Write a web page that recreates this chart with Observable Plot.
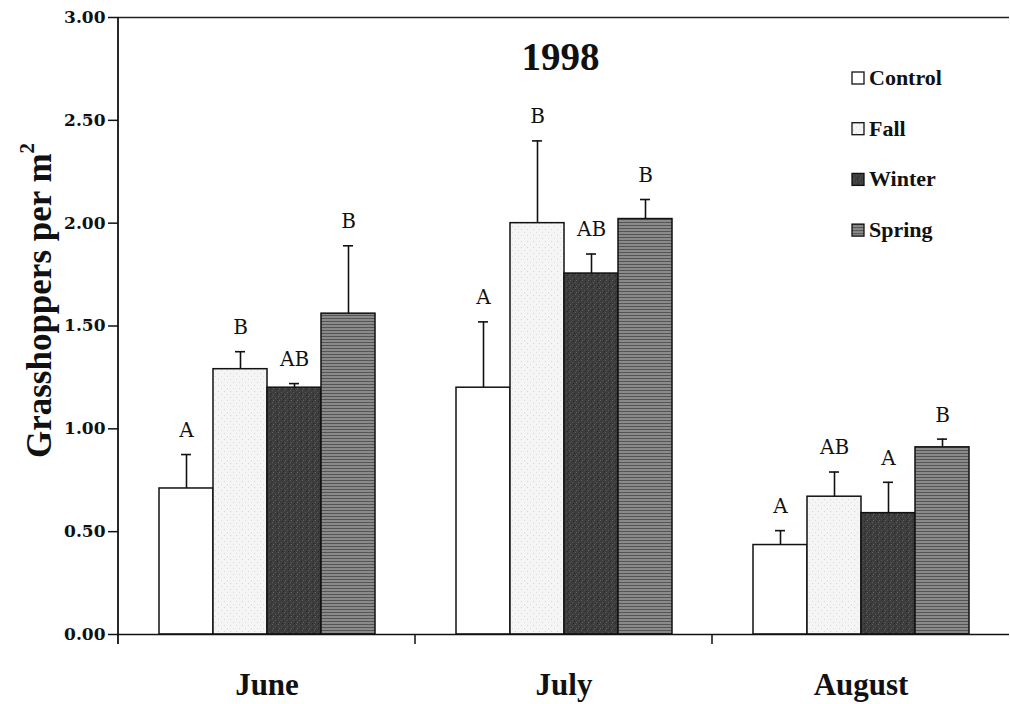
<!DOCTYPE html>
<html>
<head>
<meta charset="utf-8">
<script src="https://cdn.jsdelivr.net/npm/d3@7"></script>
<script src="https://cdn.jsdelivr.net/npm/@observablehq/plot@0.6"></script>
<style>
  html, body { margin: 0; padding: 0; background: #ffffff; }
  #chart { position: relative; width: 1010px; height: 704px; }
</style>
</head>
<body>
<svg width="0" height="0" style="position:absolute">
  <defs>
    <pattern id="pat-control" width="4" height="4" patternUnits="userSpaceOnUse">
      <rect width="4" height="4" fill="#ffffff"/>
    </pattern>
    <pattern id="pat-fall" width="6" height="6" patternUnits="userSpaceOnUse">
      <rect width="6" height="6" fill="#f5f5f5"/>
      <rect x="1" y="1" width="1" height="1" fill="#d6d6d6"/>
      <rect x="4" y="4" width="1" height="1" fill="#dddddd"/>
    </pattern>
    <pattern id="pat-winter" width="6" height="6" patternUnits="userSpaceOnUse">
      <rect width="6" height="6" fill="#3d3d3d"/>
      <rect x="1" y="0" width="1" height="1" fill="#5e5e5e"/>
      <rect x="4" y="2" width="1" height="1" fill="#575757"/>
      <rect x="2" y="4" width="1" height="1" fill="#626262"/>
      <rect x="5" y="5" width="1" height="1" fill="#2a2a2a"/>
      <rect x="0" y="3" width="1" height="1" fill="#2c2c2c"/>
    </pattern>
    <pattern id="pat-spring" width="4" height="3" patternUnits="userSpaceOnUse">
      <rect width="4" height="3" fill="#8a8a8a"/>
      <rect x="0" y="0" width="4" height="1" fill="#555555"/>
    </pattern>
  </defs>
</svg>
<div id="chart"></div>
<script>
// ---- data ----
const months = ["June", "July", "August"];
const treatments = ["Control", "Fall", "Winter", "Spring"];
const juneMeans   = [0.71, 1.29, 1.20, 1.56];
const julyMeans   = [1.20, 2.00, 1.755, 2.02];
const augustMeans = [0.435, 0.67, 0.59, 0.91];
const juneSE   = [0.165, 0.085, 0.02, 0.33];
const julySE   = [0.32, 0.40, 0.095, 0.095];
const augustSE = [0.07, 0.12, 0.15, 0.04];
const juneLetters   = ["A", "B", "AB", "B"];
const julyLetters   = ["A", "B", "AB", "B"];
const augustLetters = ["A", "AB", "A", "B"];
const yTicks = [0, 0.5, 1, 1.5, 2, 2.5, 3];
const titleText = "1998";
const yLabel = "Grasshoppers per m";
const fills = ["url(#pat-control)", "url(#pat-fall)", "url(#pat-winter)", "url(#pat-spring)"];

const meansByMonth = [juneMeans, julyMeans, augustMeans];
const seByMonth = [juneSE, julySE, augustSE];
const lettersByMonth = [juneLetters, julyLetters, augustLetters];
const data = [];
months.forEach((m, i) => treatments.forEach((t, j) => data.push({
  month: m, treatment: t, mean: meansByMonth[i][j], se: seByMonth[i][j],
  top: meansByMonth[i][j] + seByMonth[i][j], letter: lettersByMonth[i][j]
})));

const serif = "'Liberation Serif', 'Times New Roman', serif";
const wideSerif = "'DejaVu Serif', serif";

const chart = Plot.plot({
  width: 1010,
  height: 704,
  marginLeft: 117,
  marginRight: 0,
  marginTop: 17,
  marginBottom: 70,
  style: { fontFamily: serif, background: "#ffffff", color: "#111" },
  fx: { domain: months, padding: 0, label: null },
  x: { domain: treatments, paddingInner: 0, paddingOuter: 0.73, axis: null },
  y: { domain: [0, 3] },
  color: { domain: treatments, range: fills },
  marks: [
    Plot.barY(data, { fx: "month", x: "treatment", y: "mean", fill: "treatment", stroke: "#111", strokeWidth: 1.5 }),
    Plot.ruleX(data, { fx: "month", x: "treatment", y1: "mean", y2: "top", stroke: "#111", strokeWidth: 1.6 }),
    Plot.tickY(data, { fx: "month", x: "treatment", y: "top", insetLeft: 22, insetRight: 22, stroke: "#111", strokeWidth: 1.6 }),
    Plot.text(data, { fx: "month", x: "treatment", y: "top", text: "letter", dy: -24, fontFamily: wideSerif, fontSize: 20, fill: "#111" }),
    Plot.ruleY([0], { stroke: "#111", strokeWidth: 1.6 }),
    Plot.ruleY([3], { stroke: "#222", strokeWidth: 1.6 }),
    Plot.axisY({ ticks: yTicks, tickFormat: d => d.toFixed(2), tickSize: 10, tickPadding: 3, fontFamily: wideSerif, fontWeight: "bold", fontSize: 17, label: null, strokeWidth: 1.5 }),
    Plot.axisFx({ anchor: "bottom", tickSize: 0, tickPadding: 38, label: null, fontFamily: serif, fontWeight: "bold", fontSize: 31 })
  ]
});

document.getElementById("chart").appendChild(chart);

// ---- extras drawn with the plot's scales ----
const svg = d3.select(chart);
const fx = chart.scale("fx");
const ys = chart.scale("y");
const x0 = fx.apply(months[0]);
const y0 = ys.apply(0);
const y3 = ys.apply(3);

// y axis line (extends slightly below zero)
svg.append("line").attr("x1", x0).attr("x2", x0).attr("y1", y3).attr("y2", y0 + 10)
  .attr("stroke", "#111").attr("stroke-width", 1.8);
// month boundary ticks
months.slice(1).forEach(m => {
  const xm = fx.apply(m);
  svg.append("line").attr("x1", xm).attr("x2", xm).attr("y1", y0).attr("y2", y0 + 10)
    .attr("stroke", "#111").attr("stroke-width", 1.5);
});

// title
const [r0, r1] = fx.range;
svg.append("text").attr("x", (r0 + r1) / 2 - 3).attr("y", 70)
  .attr("text-anchor", "middle").attr("font-family", serif).attr("font-weight", "bold")
  .attr("font-size", 39).attr("fill", "#111").text(titleText);

// y label
const yl = svg.append("text").attr("transform", `translate(51,${(y3 + y0) / 2 - 25}) rotate(-90)`)
  .attr("text-anchor", "middle").attr("font-family", serif).attr("font-weight", "bold")
  .attr("font-size", 35).attr("fill", "#111");
yl.append("tspan").text(yLabel);
yl.append("tspan").attr("dy", -17).attr("font-size", 21).text("2");

// legend
const legend = svg.append("g").attr("transform", "translate(852,78)");
treatments.forEach((t, i) => {
  const g = legend.append("g").attr("transform", `translate(0,${i * 50.7})`);
  g.append("rect").attr("x", 0).attr("y", -6).attr("width", 12).attr("height", 12)
    .attr("fill", fills[i]).attr("stroke", "#111").attr("stroke-width", 1.3);
  g.append("text").attr("x", 17).attr("y", 7).attr("text-anchor", "start")
    .attr("font-family", serif).attr("font-weight", "bold")
    .attr("font-size", 22).attr("fill", "#111").text(t);
});
</script>
</body>
</html>
